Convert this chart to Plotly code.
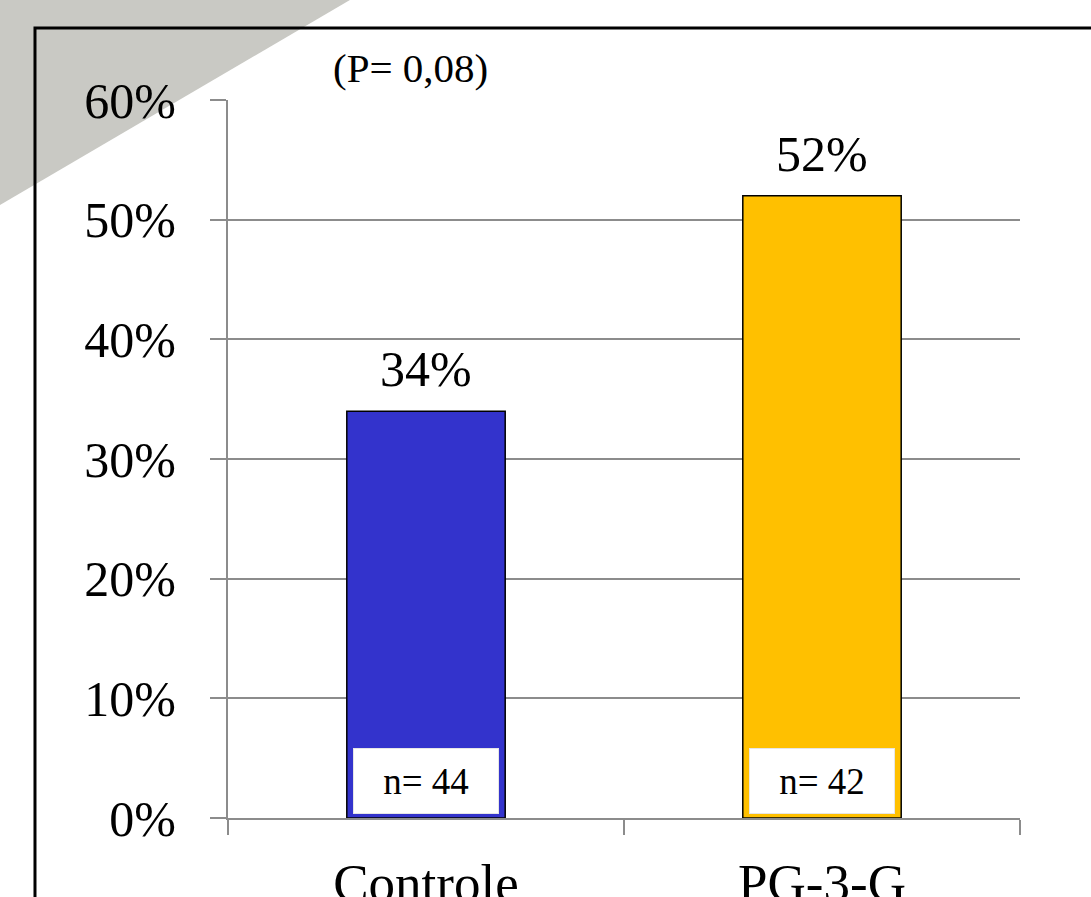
import plotly.graph_objects as go

categories = ["Controle", "PG-3-G"]
values = [0.34, 0.52]
value_labels = ["34%", "52%"]
n_labels = ["n= 44", "n= 42"]
bar_colors = ["#3333CC", "#FFC000"]
y_ticks = [0, 0.1, 0.2, 0.3, 0.4, 0.5, 0.6]
y_tick_labels = ["0%", "10%", "20%", "30%", "40%", "50%", "60%"]
p_text = "(P= 0,08)"

FONT = "Liberation Serif, Times New Roman, serif"

fig = go.Figure()
fig.add_trace(go.Bar(
    x=categories, y=values, width=0.4,
    marker=dict(color=bar_colors, line=dict(color="#000000", width=1.5)),
    hoverinfo="skip",
))

# value labels above bars
for c, v, t in zip(categories, values, value_labels):
    fig.add_annotation(x=c, y=v, text=t, showarrow=False, yanchor="bottom",
                       yshift=12, font=dict(family=FONT, size=50, color="#000"))
# n boxes at bottom of bars
for c, t in zip(categories, n_labels):
    fig.add_annotation(x=c, y=0, text=t, showarrow=False, yanchor="bottom",
                       yshift=4, width=142, height=62, bgcolor="#ffffff",
                       bordercolor="#e6e6e6", borderwidth=1,
                       font=dict(family=FONT, size=37, color="#000"))

fig.add_annotation(xref="paper", yref="paper", x=0.231, y=1.0446, text=p_text,
                   showarrow=False, xanchor="center", yanchor="middle",
                   font=dict(family=FONT, size=41, color="#000"))

# gray wedge in upper-left corner (background texture)
fig.add_shape(type="path", xref="paper", yref="paper", layer="below",
              path="M -0.2879 1.1393 L 0.1540 1.1393 L -0.2879 0.8538 Z",
              fillcolor="#c9c9c4", line=dict(width=0))
# black frame
fig.add_shape(type="rect", xref="paper", yref="paper",
              x0=-0.2437, y0=1.1003, x1=1.3, y1=-0.3,
              line=dict(color="#000000", width=3), fillcolor="rgba(0,0,0,0)")

fig.update_layout(
    width=1091, height=897,
    margin=dict(l=228, r=71, t=100, b=79, autoexpand=False),
    paper_bgcolor="#ffffff", plot_bgcolor="rgba(0,0,0,0)",
    showlegend=False,
    font=dict(family=FONT, color="#000"),
    xaxis=dict(
        type="category", showline=True, linecolor="#8c8c8c", linewidth=2,
        ticks="outside", tickson="boundaries", ticklen=15, tickcolor="#8c8c8c",
        tickwidth=2, tickfont=dict(family=FONT, size=53, color="#000"),
        ticklabelstandoff=17, showgrid=False, automargin=False,
    ),
    yaxis=dict(
        range=[0, 0.6], tickvals=y_ticks, ticktext=y_tick_labels,
        showline=True, linecolor="#8c8c8c", linewidth=2,
        ticks="outside", ticklen=16, tickcolor="#8c8c8c", tickwidth=2,
        tickfont=dict(family=FONT, size=50, color="#000"),
        ticklabelstandoff=24, automargin=False,
        showgrid=True, gridcolor="#8c8c8c", gridwidth=2, zeroline=False,
    ),
)

fig.write_html("out.html", config={"displayModeBar": False},
               post_script="document.body.style.margin='0';document.body.style.overflow='hidden';")
